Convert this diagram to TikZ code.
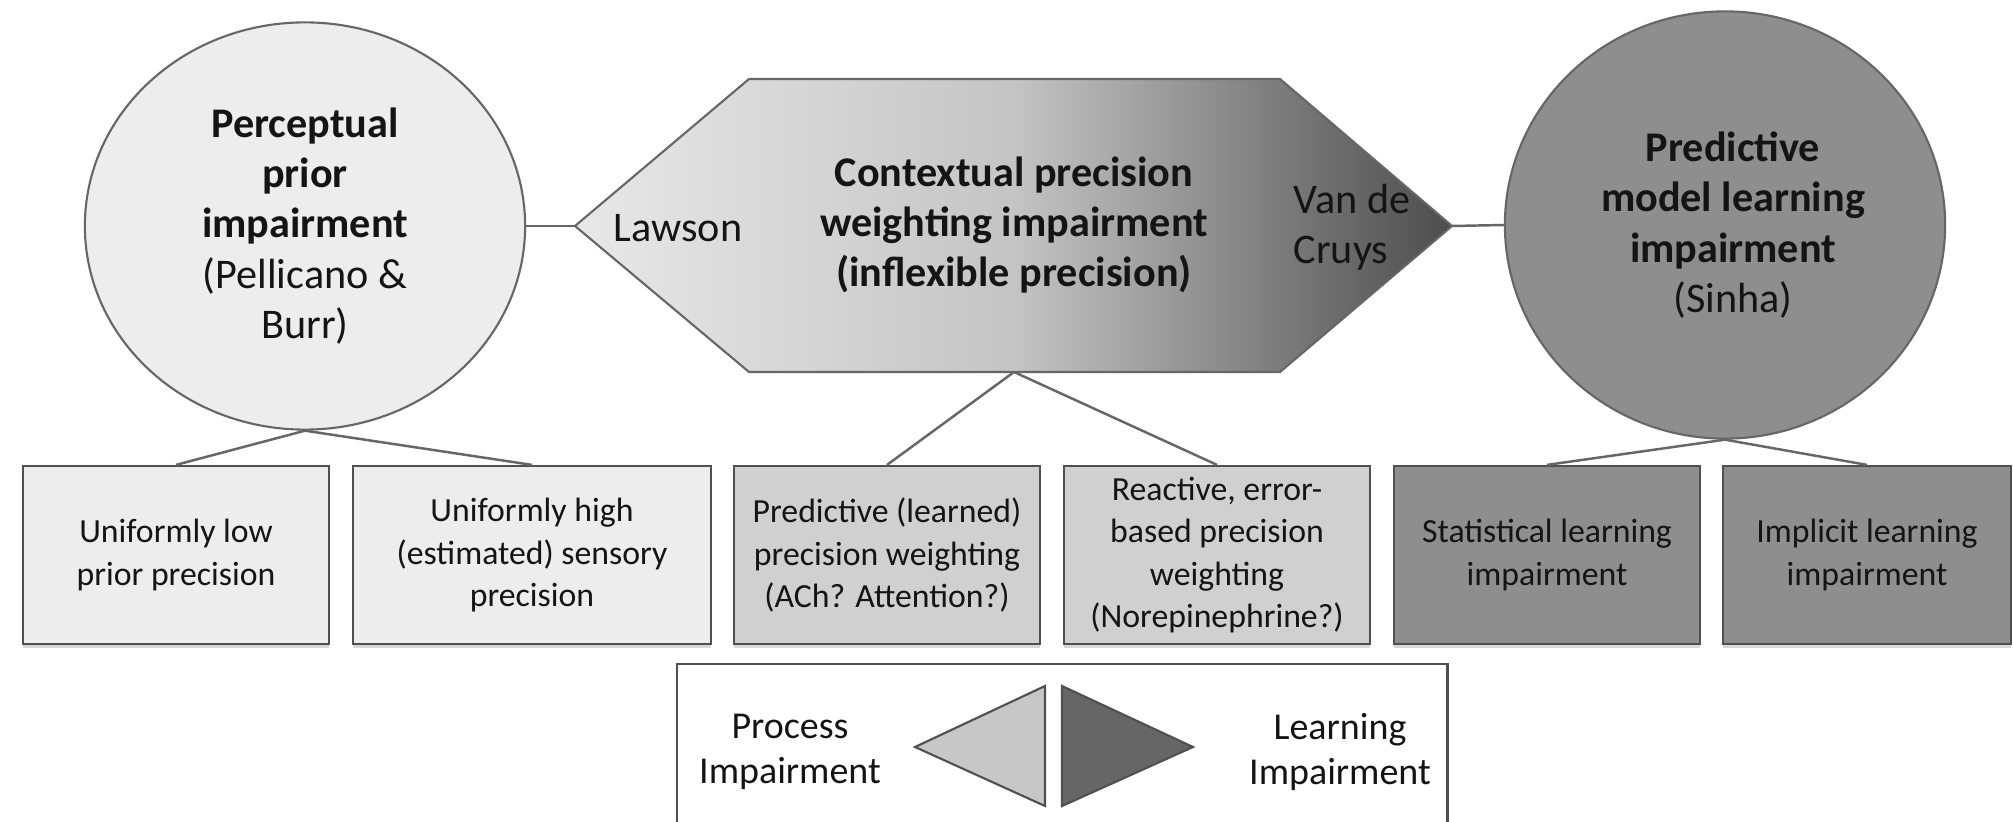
\documentclass[tikz,border=0pt]{standalone}
\usepackage{fontspec}
\setmainfont{Carlito}
\usetikzlibrary{shapes.geometric,shadows}

\definecolor{lightfill}{HTML}{EDEDED}
\definecolor{midfill}{HTML}{D0D0D0}
\definecolor{darkfill}{HTML}{8E8E8E}
\definecolor{linegray}{HTML}{666666}
\definecolor{boxline}{HTML}{505050}

\begin{document}
\begin{tikzpicture}[x=0.01cm, y=-0.01cm,
    bigtext/.style={font=\fontsize{12}{14.3}\selectfont, align=center, text=black!92},
    boxtext/.style={font=\fontsize{9.6}{12}\selectfont, align=center, text=black!92},
    legendtext/.style={font=\fontsize{10.8}{12.6}\selectfont, align=center, text=black!92},
    blob/.style={ellipse, draw=linegray, line width=0.6pt, inner sep=0pt, minimum width=4.4cm, bigtext},
    subbox/.style={rectangle, draw=boxline, line width=0.6pt, inner sep=0pt, minimum height=1.78cm,
        drop shadow={shadow xshift=0pt, shadow yshift=-1.2pt, fill=black!25, opacity=0.6}, boxtext}]

    \useasboundingbox (0,0) rectangle (2013,822);
    \clip (0,0) rectangle (2013,822);
    \fill[white] (0,0) rectangle (2013,822);

    \coordinate (hexW) at (575,226);
    \coordinate (hexNW) at (749,79);
    \coordinate (hexNE) at (1280,79);
    \coordinate (hexE) at (1452,226);
    \coordinate (hexSE) at (1280,372);
    \coordinate (hexSW) at (749,372);
    \coordinate (hexS) at (1014,372);

    \draw[draw=linegray, line width=0.6pt, left color=black!9, right color=black!70, middle color=black!23]
        (hexW) -- (hexNW) -- (hexNE) -- (hexE) -- (hexSE) -- (hexSW) -- cycle;

    \node[bigtext] (lawson) at (678,228) {Lawson};
    \node[bigtext, font=\bfseries\fontsize{12}{14.3}\selectfont] (context) at (1014,225)
        {Contextual precision\\weighting impairment\\(inflexible precision)};
    \node[bigtext, align=left, anchor=west, inner sep=0pt] (vandecruys) at (1293,227) {Van de\\Cruys};

    \node[blob, fill=lightfill, minimum height=4.07cm] (percep) at (305,226)
        {\textbf{Perceptual}\\\textbf{prior}\\\textbf{impairment}\\(Pellicano \&\\Burr)};
    \node[blob, fill=darkfill, minimum height=4.27cm] (predict) at (1725,225)
        {\hspace*{0.16cm}\textbf{Predictive}\\\hspace*{0.16cm}\textbf{model learning}\\\hspace*{0.16cm}\textbf{impairment}\\\hspace*{0.16cm}(Sinha)};

    \node[subbox, fill=lightfill, minimum width=3.06cm] (lowprior) at (176,555) {Uniformly low\\prior precision};
    \node[subbox, fill=lightfill, minimum width=3.58cm] (highsens) at (532,555) {Uniformly high\\(estimated) sensory\\precision};
    \node[subbox, fill=midfill, minimum width=3.05cm] (learned) at (887,555) {Predictive (learned)\\precision weighting\\(ACh? Attention?)};
    \node[subbox, fill=midfill, minimum width=3.05cm] (reactive) at (1217,555) {Reactive, error-\\based precision\\weighting\\(Norepinephrine?)};
    \node[subbox, fill=darkfill, minimum width=3.06cm] (statlearn) at (1547,555) {Statistical learning\\impairment};
    \node[subbox, fill=darkfill, minimum width=2.88cm] (implearn) at (1867,555) {Implicit learning\\impairment};

    \begin{scope}[every edge/.style={draw=linegray, line width=0.7pt}]
        \path [-] (percep.east) edge (hexW);
        \path [-] (hexE) edge (predict.west);
        \path [-] (percep.south) edge (lowprior.north);
        \path [-] (percep.south) edge (highsens.north);
        \path [-] (hexS) edge (learned.north);
        \path [-] (hexS) edge (reactive.north);
        \path [-] (predict.south) edge (statlearn.north);
        \path [-] (predict.south) edge (implearn.north);
    \end{scope}

    \node[draw=boxline, line width=0.6pt, fill=white, anchor=north west, inner sep=0pt,
        minimum width=7.7cm, minimum height=1.9cm] (legend) at (676,663) {};

    \coordinate (procL) at (915,747);
    \coordinate (procT) at (1045,686);
    \coordinate (procB) at (1045,806);
    \coordinate (learnR) at (1193,747);
    \coordinate (learnT) at (1062,686);
    \coordinate (learnB) at (1062,806);

    \draw[draw=boxline, line width=0.6pt, fill=black!22] (procL) -- (procT) -- (procB) -- cycle;
    \draw[draw=boxline, line width=0.6pt, fill=black!60] (learnT) -- (learnR) -- (learnB) -- cycle;

    \node[legendtext] (process) at (790,752) {Process\\Impairment};
    \node[legendtext] (learning) at (1340,752) {Learning\\Impairment};
\end{tikzpicture}
\end{document}
